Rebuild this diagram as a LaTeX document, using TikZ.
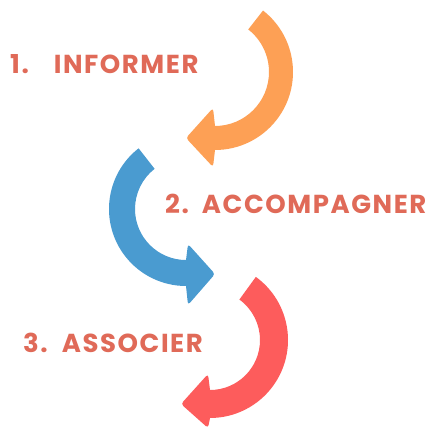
\documentclass[tikz,border=0pt]{standalone}
\usepackage{fontspec}
\setmainfont{Poppins}[LetterSpace=6]
\definecolor{txtc}{RGB}{224,106,88}
\definecolor{orangeA}{RGB}{253,160,85}
\definecolor{blueA}{RGB}{74,155,208}
\definecolor{redA}{RGB}{253,92,92}
\begin{document}
\begin{tikzpicture}[x=1pt,y=-1pt,
  lbl/.style={anchor=base west,inner sep=0pt,text=txtc,font=\fontsize{26}{30}\selectfont\bfseries}]
\useasboundingbox[fill=white] (0,0) rectangle (429,431);
% orange arrow
\fill[orangeA] (215,72) ++(-52:78) arc[start angle=-52,end angle=90,radius=78]
  [rounded corners=3pt] -- (213,167) -- (186,138) -- (213,108) [sharp corners] -- (215,126)
  arc[start angle=90,end angle=-52,radius=54] -- cycle;
% blue arrow
\fill[blueA] (186,209) ++(232:77) arc[start angle=232,end angle=90,radius=77]
  [rounded corners=3pt] -- (188,305) -- (215,274) -- (188,244) [sharp corners] -- (186,260)
  arc[start angle=90,end angle=232,radius=51] -- cycle;
% red arrow
\fill[redA] (210,340) ++(-54:78) arc[start angle=-54,end angle=90,radius=78]
  [rounded corners=3pt] -- (208,428) -- (181,404) -- (208,374) [sharp corners] -- (210,390)
  arc[start angle=90,end angle=-54,radius=50] -- cycle;
% labels
\node[lbl] (t1) at (10,73) {1.\hspace{25pt}INFORMER};
\node[lbl] (t2) at (165,213) {2.\hspace{13pt}ACCOMPAGNER};
\node[lbl] (t3) at (23,352) {3.\hspace{14pt}ASSOCIER};
\end{tikzpicture}
\end{document}
